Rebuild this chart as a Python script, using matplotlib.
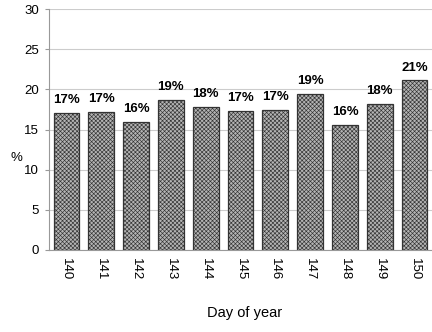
import matplotlib
matplotlib.use("Agg")
import matplotlib.pyplot as plt
import numpy as np

plt.rcParams['font.family'] = ['Liberation Sans', 'DejaVu Sans']
plt.rcParams['hatch.color'] = '#6a6a6a'
plt.rcParams['hatch.linewidth'] = 0.45

days = ['140', '141', '142', '143', '144', '145', '146', '147', '148', '149', '150']
share = [17.1, 17.2, 15.9, 18.7, 17.8, 17.3, 17.4, 19.4, 15.6, 18.2, 21.1]

fig = plt.figure(figsize=(4.32, 3.32), dpi=100)
ax = fig.add_axes([49 / 432, 1 - 250 / 332, 1 - 49 / 432, 241 / 332])

x = np.arange(len(days))
bars = ax.bar(x, share, width=0.74, color='#b4b4b4', edgecolor='#333333',
              linewidth=0.9, hatch='xxxxxxxx', zorder=2)

for b, v in zip(bars, share):
    ax.annotate(f"{v:.0f}%", (b.get_x() + b.get_width() / 2, v),
                xytext=(0, 5), textcoords='offset points',
                ha='center', va='bottom', fontsize=9.5, fontweight='bold')

ax.set_xlim(-0.5, len(days) - 0.5)
ax.set_ylim(0, 30)
ax.set_yticks(range(0, 31, 5))
ax.set_xticks(x)
ax.set_xticklabels(days, rotation=270, fontsize=9.5)
ax.tick_params(axis='y', labelsize=9.5, length=3, color='#999999', pad=4)
ax.tick_params(axis='x', length=0, pad=6)
ax.yaxis.grid(True, color='#cccccc', linewidth=0.8, zorder=0)
ax.set_axisbelow(True)

for side in ['top', 'right']:
    ax.spines[side].set_visible(False)
for side in ['left', 'bottom']:
    ax.spines[side].set_color('#999999')
    ax.spines[side].set_linewidth(0.8)

fig.text(16 / 432, 1 - 158 / 332, '%', ha='center', va='center', fontsize=9.5)
fig.text(245 / 432, 1 - 313 / 332, 'Day of year', ha='center', va='center', fontsize=10.5)

fig.savefig('out.png', dpi=100)
